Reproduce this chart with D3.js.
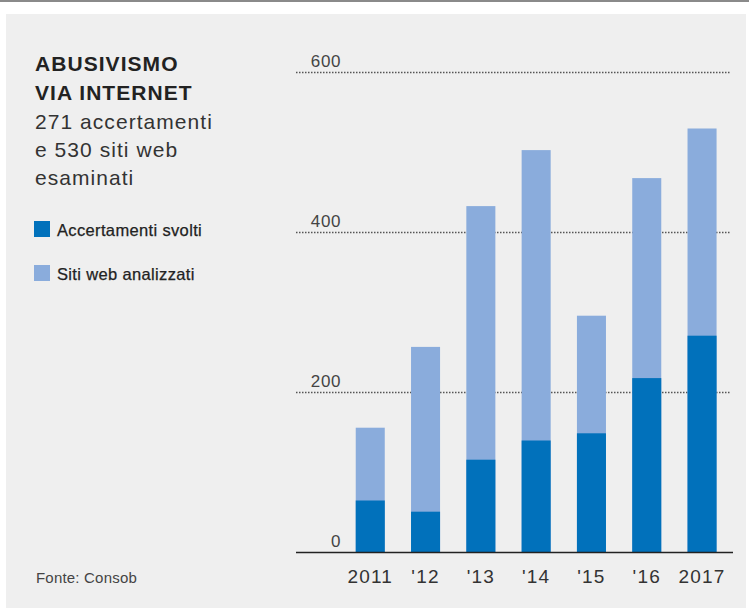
<!DOCTYPE html>
<html>
<head>
<meta charset="utf-8">
<script src="https://cdn.jsdelivr.net/npm/d3@7"></script>
<style>
  body { margin: 0; background: #fff; }
  text { font-family: "Liberation Sans", Arial, sans-serif; }
</style>
</head>
<body>
<div id="chart"></div>
<script>

// Data
var years = ["2011", "'12", "'13", "'14", "'15", "'16", "2017"];
var accertamenti = [65, 51, 116, 140, 149, 218, 271];
var sitiWeb = [156, 257, 433, 503, 296, 468, 530];
var yTicks = [0, 200, 400, 600];

var width = 749, height = 608;
var darkBlue = "#0171bb", lightBlue = "#8aacdc";

var svg = d3.select("#chart").append("svg")
  .attr("width", width)
  .attr("height", height);

// top rule and grey panel
svg.append("rect").attr("x", 0).attr("y", 0).attr("width", width).attr("height", 2).attr("fill", "#8a8a8a");
svg.append("rect").attr("x", 6).attr("y", 14).attr("width", 740).attr("height", height - 14).attr("fill", "#efefef");

// Scales
var x = d3.scaleBand()
  .domain(years)
  .range([342.6, 729.7])
  .paddingInner(0.475)
  .paddingOuter(0.2375);

var y = d3.scaleLinear()
  .domain([0, 600])
  .range([552.5, 72.5]);

// Dotted gridlines (not for zero)
svg.append("g").selectAll("line")
  .data(yTicks.filter(function(d) { return d > 0; }))
  .enter().append("line")
  .attr("x1", 296).attr("x2", 730)
  .attr("y1", function(d) { return y(d); })
  .attr("y2", function(d) { return y(d); })
  .attr("stroke", "#555")
  .attr("stroke-width", 1.5)
  .attr("stroke-dasharray", "1.5,1.5");

// Tick labels sit just above their line
svg.append("g").selectAll("text")
  .data(yTicks)
  .enter().append("text")
  .attr("x", 341)
  .attr("y", function(d) { return y(d) - 5.5; })
  .attr("text-anchor", "end")
  .attr("font-size", 17)
  .attr("letter-spacing", 0.6)
  .attr("fill", "#444")
  .text(function(d) { return d; });

// Bars: light (siti web) behind, dark (accertamenti) in front
var bars = svg.append("g");
bars.selectAll("rect.siti")
  .data(years)
  .enter().append("rect")
  .attr("class", "siti")
  .attr("x", function(d) { return x(d); })
  .attr("width", x.bandwidth())
  .attr("y", function(d, i) { return y(sitiWeb[i]); })
  .attr("height", function(d, i) { return y(0) - y(sitiWeb[i]); })
  .attr("fill", lightBlue);

bars.selectAll("rect.acc")
  .data(years)
  .enter().append("rect")
  .attr("class", "acc")
  .attr("x", function(d) { return x(d); })
  .attr("width", x.bandwidth())
  .attr("y", function(d, i) { return y(accertamenti[i]); })
  .attr("height", function(d, i) { return y(0) - y(accertamenti[i]); })
  .attr("fill", darkBlue);

// Baseline
svg.append("line")
  .attr("x1", 296).attr("x2", 733)
  .attr("y1", y(0)).attr("y2", y(0))
  .attr("stroke", "#222")
  .attr("stroke-width", 1.5);

// X axis labels
var xAxis = svg.append("g")
  .attr("transform", "translate(0," + y(0) + ")")
  .call(d3.axisBottom(x).tickSize(0).tickPadding(0));
xAxis.select(".domain").remove();
xAxis.selectAll("text")
  .attr("dy", 0)
  .attr("y", 30)
  .attr("font-size", 19)
  .attr("letter-spacing", 1.2)
  .attr("fill", "#333")
  .style("font-family", "'Liberation Sans', Arial, sans-serif");

// Title block
var title = svg.append("g").attr("fill", "#222");
title.append("text").attr("x", 35).attr("y", 71)
  .attr("font-size", 21).attr("font-weight", "bold").attr("letter-spacing", 1.05)
  .text("ABUSIVISMO");
title.append("text").attr("x", 35).attr("y", 100)
  .attr("font-size", 21).attr("font-weight", "bold").attr("letter-spacing", 1.05)
  .text("VIA INTERNET");

var sub = ["271 accertamenti", "e 530 siti web", "esaminati"];
title.selectAll("text.sub")
  .data(sub)
  .enter().append("text")
  .attr("class", "sub")
  .attr("x", 35)
  .attr("y", function(d, i) { return 128.5 + i * 28.3; })
  .attr("font-size", 21)
  .attr("letter-spacing", 1.05)
  .attr("fill", "#333")
  .text(function(d) { return d; });

// Legend
var legend = [
  {label: "Accertamenti svolti", color: darkBlue},
  {label: "Siti web analizzati", color: lightBlue}
];
var lg = svg.append("g").selectAll("g")
  .data(legend)
  .enter().append("g")
  .attr("transform", function(d, i) { return "translate(34," + (221 + i * 44) + ")"; });
lg.append("rect").attr("width", 16).attr("height", 16)
  .attr("fill", function(d) { return d.color; });
lg.append("text").attr("x", 23).attr("y", 15)
  .attr("font-size", 16.5)
  .attr("letter-spacing", 0.35)
  .attr("fill", "#222")
  .attr("stroke", "#222")
  .attr("stroke-width", 0.25)
  .text(function(d) { return d.label; });

// Source
svg.append("text").attr("x", 36).attr("y", 583)
  .attr("font-size", 15)
  .attr("letter-spacing", 0.2)
  .attr("fill", "#444")
  .text("Fonte: Consob");

</script>
</body>
</html>
